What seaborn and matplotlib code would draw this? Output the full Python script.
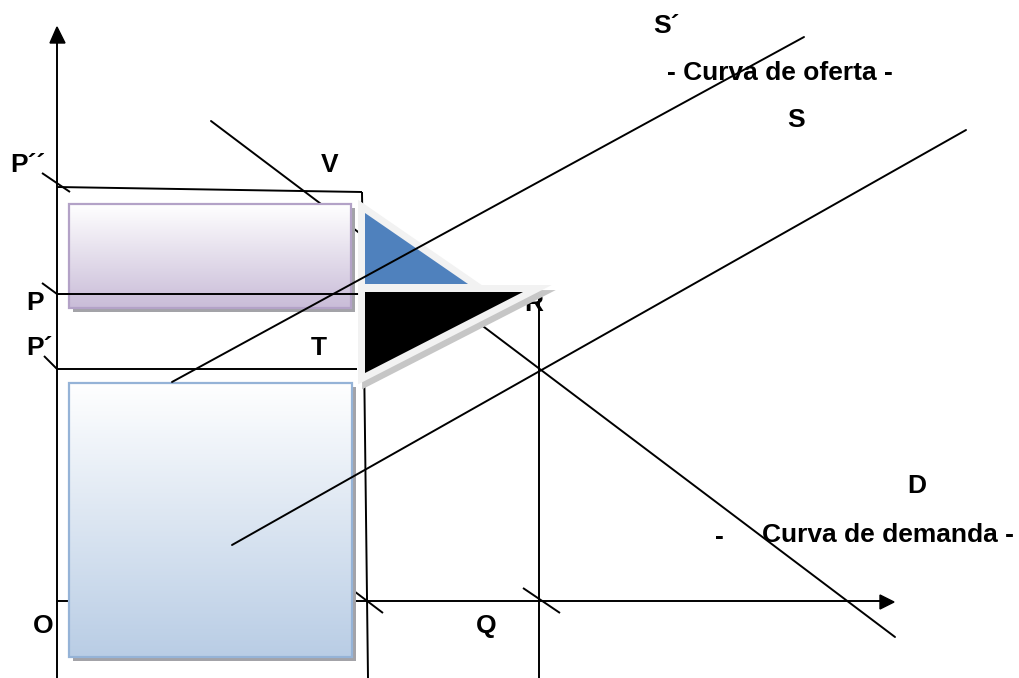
import numpy as np
import pandas as pd
import matplotlib
matplotlib.use('Agg')
import matplotlib.pyplot as plt
from matplotlib.patches import Polygon, Rectangle
import seaborn as sns

# drawing is laid out in the pixel space of the original sketch (y grows downward)
supply_names = ['S´', 'S']
supply_x = [[172, 804], [232, 966]]
supply_y = [[382, 37], [545, 130]]

demand_x = [211, 895]
demand_y = [121, 637]

# guide lines: price levels, quantity verticals and little tick marks
guide_x = [[57, 362], [362, 368], [57, 539], [539, 539], [57, 357],
           [42, 70], [42, 57], [44, 57], [350, 383], [523, 560]]
guide_y = [[187, 192], [192, 678], [294, 294], [294, 678], [369, 369],
           [173, 192], [283, 294], [356, 369], [588, 613], [588, 613]]

# axes of the diagram
yaxis_x = [57, 57]
yaxis_y = [678, 43]
xaxis_x = [57, 880]
xaxis_y = [601, 601]

# shaded rectangles (left, top, right, bottom)
purple_box = [69, 204, 351, 308]
blue_box = [69, 383, 352, 657]

# triangles
blue_tri = [(365, 213), (365, 284), (468, 284)]
black_tri = [(365, 292), (365, 373), (523, 292)]

labels = ['P´´', 'V', 'P', 'P´', 'T', 'R', 'O', 'Q', 'S´',
          '- Curva de oferta -', 'S', 'D', '-', 'Curva de demanda -']
label_x = [10, 321, 26, 26, 311, 524, 33, 476, 653, 667, 787, 907, 715, 762]
label_y = [172, 172, 310, 355, 355, 311, 633, 633, 33, 80, 127, 493, 544, 542]

sns.set_theme(style='white')
plt.rcParams['font.family'] = ['Liberation Sans', 'DejaVu Sans']

fig = plt.figure(figsize=(10.19, 6.78), dpi=100)
ax = fig.add_axes([0, 0, 1, 1])

lw = 1.4

# demand curve sits under the boxes and triangles
dem = pd.DataFrame({'x': demand_x, 'y': demand_y})
sns.lineplot(data=dem, x='x', y='y', sort=False, color='black', lw=lw, zorder=1, ax=ax)

for gx, gy in zip(guide_x, guide_y):
    ax.plot(gx, gy, color='black', lw=lw, zorder=1, solid_capstyle='butt')
ax.plot(yaxis_x, yaxis_y, color='black', lw=lw, zorder=1)
ax.plot(xaxis_x, xaxis_y, color='black', lw=lw, zorder=1)
ax.add_patch(Polygon([(57, 27), (50, 43), (65, 43)], color='black', zorder=1))
ax.add_patch(Polygon([(894, 602), (880, 595), (880, 609)], color='black', zorder=1))


def gradient_box(box, top, bottom, edge, z):
    x0, y0, x1, y1 = box
    t = np.linspace(0, 1, 256)[:, None, None]
    c0 = np.array(matplotlib.colors.to_rgb(top))
    c1 = np.array(matplotlib.colors.to_rgb(bottom))
    img = (1 - t) * c0 + t * c1
    ax.add_patch(Rectangle((x0 + 4, y0 + 4), x1 - x0, y1 - y0, color='#a3a3a8', zorder=z - 0.1, lw=0))
    ax.imshow(img, extent=(x0, x1, y1, y0), aspect='auto', zorder=z, interpolation='bilinear')
    ax.add_patch(Rectangle((x0, y0), x1 - x0, y1 - y0, fill=False, edgecolor=edge, lw=1.6, zorder=z + 0.05))


gradient_box(purple_box, '#ffffff', '#c9bcd8', '#b3a2c7', 2)
gradient_box(blue_box, '#ffffff', '#b9cde5', '#95b3d7', 2)

# the P line runs across the purple box
ax.plot([57, 539], [294, 294], color='black', lw=lw, zorder=3)

for txt, tx, ty in zip(labels, label_x, label_y):
    ax.text(tx, ty, txt, fontsize=19, fontweight='bold', ha='left', va='baseline',
            color='black', zorder=3)

# triangles with a pale rim and a soft shadow
for verts, fc in [(black_tri, 'black'), (blue_tri, '#4f81bd')]:
    sh = [(x + 4, y + 5) for x, y in verts]
    ax.add_patch(Polygon(sh, closed=True, facecolor='#c6c6c6', edgecolor='#c6c6c6',
                         lw=10, joinstyle='miter', zorder=3.8))
for verts, fc in [(black_tri, 'black'), (blue_tri, '#4f81bd')]:
    ax.add_patch(Polygon(verts, closed=True, fill=False, edgecolor='#f2f2f2',
                         lw=10, joinstyle='miter', zorder=4))
for verts, fc in [(black_tri, 'black'), (blue_tri, '#4f81bd')]:
    ax.add_patch(Polygon(verts, closed=True, facecolor=fc, lw=0, zorder=4.1))

# supply curves on top
sup = pd.DataFrame({
    'x': [v for xs in supply_x for v in xs],
    'y': [v for ys in supply_y for v in ys],
    'curve': [n for n, xs in zip(supply_names, supply_x) for _ in xs],
})
sns.lineplot(data=sup, x='x', y='y', units='curve', estimator=None, sort=False,
             color='black', lw=lw, zorder=5, ax=ax, legend=False)

ax.set_xlim(0, 1019)
ax.set_ylim(678, 0)
ax.axis('off')

fig.savefig('out.png', dpi=100, facecolor='white')
